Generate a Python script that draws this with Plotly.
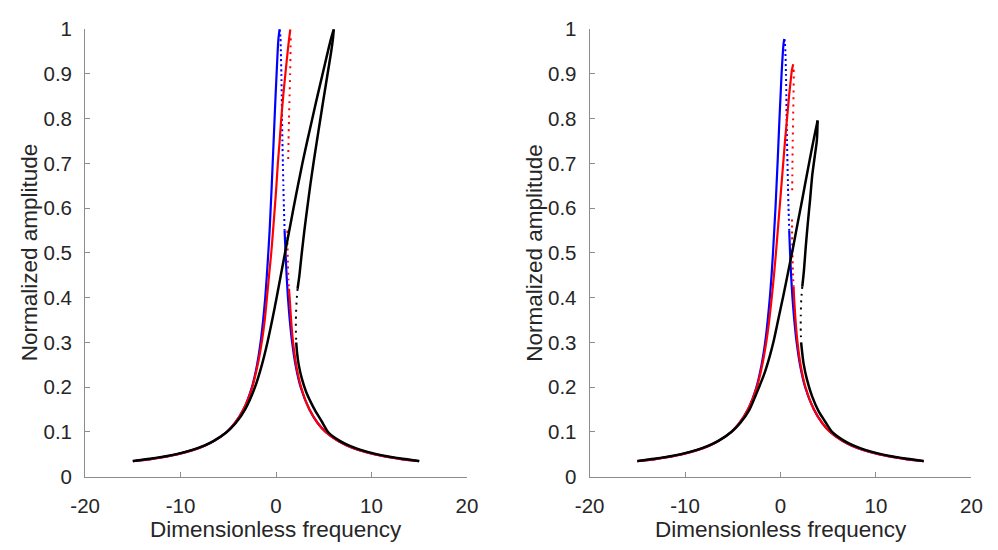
import plotly.graph_objects as go

# ---------------- data ----------------
x_ticks = [-20, -10, 0, 10, 20]
x_tick_text = ["-20", "-10", "0", "10", "20"]
y_ticks = [0, 0.1, 0.2, 0.3, 0.4, 0.5, 0.6, 0.7, 0.8, 0.9, 1.0]
y_tick_text = ["0", "0.1", "0.2", "0.3", "0.4", "0.5", "0.6", "0.7", "0.8", "0.9", "1"]

# shared response tails (x, y)
tail_left_x = [-15.0, -12.99, -10.38, -8.65, -7.41, -6.48, -5.17, -4.30, -3.42]
tail_left_y = [0.0346, 0.040, 0.050, 0.060, 0.070, 0.080, 0.100, 0.120, 0.150]
tail_right_x = [3.50, 4.36, 5.20, 6.48, 7.41, 8.65, 10.38, 12.99, 15.0]
tail_right_y = [0.150, 0.120, 0.100, 0.080, 0.070, 0.060, 0.050, 0.040, 0.0346]

# ---- Left panel ----
L_blue_a_x = [-2.53, -1.99, -1.62, -1.35, -1.13, -0.96, -0.81, -0.67, -0.56, -0.45, -0.35, -0.25, -0.15, -0.05, 0.06, 0.17, 0.26, 0.38]
L_blue_a_y = [0.20, 0.25, 0.30, 0.35, 0.40, 0.45, 0.50, 0.55, 0.60, 0.65, 0.70, 0.75, 0.80, 0.85, 0.90, 0.95, 0.98, 1.00]
L_blue_dot_x = [0.38, 0.47, 0.51, 0.56, 0.60, 0.63, 0.67, 0.72, 0.77, 0.83, 0.90]
L_blue_dot_y = [1.00, 0.98, 0.95, 0.90, 0.85, 0.80, 0.75, 0.70, 0.65, 0.60, 0.55]
L_blue_b_x = [0.90, 1.00, 1.11, 1.25, 1.44, 1.69, 2.04, 2.58]
L_blue_b_y = [0.55, 0.50, 0.45, 0.40, 0.35, 0.30, 0.25, 0.20]

L_red_a_x = [-2.49, -1.92, -1.50, -1.18, -0.95, -0.73, -0.50, -0.31, -0.13, 0.04, 0.19, 0.38, 0.55, 0.75, 0.98, 1.22, 1.38, 1.50]
L_red_a_y = [0.20, 0.25, 0.30, 0.35, 0.40, 0.45, 0.50, 0.55, 0.60, 0.65, 0.70, 0.75, 0.80, 0.85, 0.90, 0.95, 0.98, 1.00]
L_red_dot1_x = [1.54, 1.52, 1.48, 1.42, 1.36, 1.31, 1.27]
L_red_dot1_y = [0.98, 0.95, 0.90, 0.85, 0.80, 0.75, 0.70]
L_red_dot2_x = [1.19, 1.20, 1.24, 1.30, 1.36]
L_red_dot2_y = [0.55, 0.52, 0.48, 0.44, 0.42]
L_red_b_x = [1.36, 1.43, 1.58, 1.79, 2.11, 2.63]
L_red_b_y = [0.42, 0.40, 0.35, 0.30, 0.25, 0.20]

L_blk_a_x = [-15.0, -13.22, -10.55, -8.77, -7.48, -6.52, -5.15, -4.22, -3.25, -2.21, -1.48, -0.90, -0.40, 0.06, 0.50, 0.94, 1.39, 1.83, 2.29, 2.76, 3.27, 3.80, 4.33, 4.88, 5.43, 5.78, 6.05]
L_blk_a_y = [0.0353, 0.040, 0.050, 0.060, 0.070, 0.080, 0.100, 0.120, 0.150, 0.200, 0.250, 0.300, 0.350, 0.400, 0.450, 0.500, 0.550, 0.600, 0.650, 0.700, 0.750, 0.800, 0.850, 0.900, 0.950, 0.980, 1.000]
L_blk_b_x = [6.05, 5.97, 5.78, 5.40, 5.02, 4.65, 4.28, 3.92, 3.58, 3.27, 2.97, 2.70, 2.45, 2.26]
L_blk_b_y = [1.00, 0.98, 0.95, 0.90, 0.85, 0.80, 0.75, 0.70, 0.65, 0.60, 0.55, 0.50, 0.45, 0.42]
L_blk_dot_x = [2.26, 2.15, 2.09, 2.08, 2.12]
L_blk_dot_y = [0.42, 0.39, 0.36, 0.33, 0.30]
L_blk_c_x = [2.12, 2.19, 2.38, 2.72, 3.15, 3.68, 4.15, 4.78, 5.45, 6.68, 7.62, 8.87, 10.63, 13.27, 15.0]
L_blk_c_y = [0.300, 0.280, 0.250, 0.218, 0.190, 0.165, 0.146, 0.124, 0.100, 0.080, 0.070, 0.060, 0.050, 0.040, 0.0353]

# ---- Right panel ----
R_blue_a_x = [-2.53, -1.99, -1.61, -1.34, -1.12, -0.94, -0.79, -0.66, -0.53, -0.42, -0.31, -0.21, -0.11, 0.00, 0.11, 0.25, 0.33, 0.40]
R_blue_a_y = [0.20, 0.25, 0.30, 0.35, 0.40, 0.45, 0.50, 0.55, 0.60, 0.65, 0.70, 0.75, 0.80, 0.85, 0.90, 0.95, 0.97, 0.978]
R_blue_dot_x = [0.40, 0.46, 0.51, 0.57, 0.61, 0.64, 0.68, 0.73, 0.78, 0.84, 0.91]
R_blue_dot_y = [0.978, 0.97, 0.95, 0.90, 0.85, 0.80, 0.75, 0.70, 0.65, 0.60, 0.55]
R_blue_b_x = [0.91, 1.00, 1.11, 1.25, 1.44, 1.69, 2.04, 2.58]
R_blue_b_y = [0.55, 0.50, 0.45, 0.40, 0.35, 0.30, 0.25, 0.20]

R_red_a_x = [-2.48, -1.91, -1.50, -1.18, -0.92, -0.69, -0.48, -0.29, -0.10, 0.09, 0.28, 0.47, 0.68, 0.89, 1.14, 1.20, 1.33]
R_red_a_y = [0.20, 0.25, 0.30, 0.35, 0.40, 0.45, 0.50, 0.55, 0.60, 0.65, 0.70, 0.75, 0.80, 0.85, 0.90, 0.91, 0.922]
R_red_dot1_x = [1.37, 1.39, 1.36, 1.32, 1.28, 1.25, 1.22]
R_red_dot1_y = [0.91, 0.90, 0.85, 0.80, 0.75, 0.70, 0.632]
R_red_dot2_x = [1.20, 1.21, 1.25, 1.31, 1.37]
R_red_dot2_y = [0.575, 0.54, 0.50, 0.45, 0.425]
R_red_b_x = [1.37, 1.42, 1.57, 1.78, 2.10, 2.62]
R_red_b_y = [0.425, 0.40, 0.35, 0.30, 0.25, 0.20]

R_blk_a_x = [-15.0, -13.22, -10.55, -8.77, -7.48, -6.52, -5.15, -4.22, -3.25, -2.25, -1.62, -1.12, -0.70, -0.22, 0.30, 0.82, 1.32, 1.80, 2.28, 2.76, 3.12, 3.44, 3.68, 3.83, 3.88]
R_blk_a_y = [0.0353, 0.040, 0.050, 0.060, 0.070, 0.080, 0.100, 0.120, 0.150, 0.200, 0.235, 0.270, 0.305, 0.353, 0.405, 0.460, 0.513, 0.567, 0.620, 0.675, 0.715, 0.750, 0.775, 0.790, 0.796]
R_blk_b_x = [3.88, 3.86, 3.80, 3.58, 3.33, 3.10, 2.86, 2.64, 2.45, 2.28]
R_blk_b_y = [0.796, 0.775, 0.750, 0.715, 0.675, 0.620, 0.567, 0.513, 0.460, 0.425]
R_blk_dot_x = [2.28, 2.17, 2.12, 2.12, 2.16]
R_blk_dot_y = [0.425, 0.395, 0.360, 0.325, 0.300]
R_blk_c_x = [2.16, 2.21, 2.40, 2.76, 3.30, 4.00, 4.65, 5.40, 6.68, 7.62, 8.87, 10.63, 13.27, 15.0]
R_blk_c_y = [0.300, 0.289, 0.255, 0.218, 0.180, 0.146, 0.124, 0.100, 0.080, 0.070, 0.060, 0.050, 0.040, 0.0353]

# ---------------- figure ----------------
BLUE, RED, BLACK = "#0000ff", "#ff0000", "#000000"
fig = go.Figure()


def solid(x, y, color, w, ax):
    fig.add_trace(go.Scatter(x=x, y=y, mode="lines", xaxis=ax[0], yaxis=ax[1],
                             line=dict(color=color, width=w, shape="spline", smoothing=0.6),
                             showlegend=False, hoverinfo="skip"))


def dotted(x, y, color, dash, ax):
    fig.add_trace(go.Scatter(x=x, y=y, mode="lines", xaxis=ax[0], yaxis=ax[1],
                             line=dict(color=color, width=2, dash=dash, shape="spline", smoothing=0.6),
                             showlegend=False, hoverinfo="skip"))


for ax, d in ((("x", "y"), "L"), (("x2", "y2"), "R")):
    g = globals()
    # blue
    solid(tail_left_x + g[d + "_blue_a_x"], tail_left_y + g[d + "_blue_a_y"], BLUE, 2.2, ax)
    dotted(g[d + "_blue_dot_x"], g[d + "_blue_dot_y"], BLUE, "2px,3px", ax)
    solid(g[d + "_blue_b_x"] + tail_right_x, g[d + "_blue_b_y"] + tail_right_y, BLUE, 2.2, ax)
    # red
    solid(tail_left_x + g[d + "_red_a_x"], tail_left_y + g[d + "_red_a_y"], RED, 2.2, ax)
    dotted(g[d + "_red_dot1_x"], g[d + "_red_dot1_y"], RED, "2px,5px", ax)
    dotted(g[d + "_red_dot2_x"], g[d + "_red_dot2_y"], RED, "2px,4px", ax)
    solid(g[d + "_red_b_x"] + tail_right_x, g[d + "_red_b_y"] + tail_right_y, RED, 2.2, ax)
    # black
    solid(g[d + "_blk_a_x"], g[d + "_blk_a_y"], BLACK, 2.5, ax)
    solid(g[d + "_blk_b_x"], g[d + "_blk_b_y"], BLACK, 2.5, ax)
    dotted(g[d + "_blk_dot_x"], g[d + "_blk_dot_y"], BLACK, "2px,5px", ax)
    solid(g[d + "_blk_c_x"], g[d + "_blk_c_y"], BLACK, 2.5, ax)

FONT = "Liberation Sans, Arial, Helvetica, sans-serif"
axis_common = dict(showgrid=False, zeroline=False, showline=True, linecolor="#8c8c8c", linewidth=1,
                   ticks="inside", ticklen=5, tickcolor="#8c8c8c", tickwidth=1,
                   tickfont=dict(family=FONT, size=20.5, color="#262626"), mirror=False, fixedrange=True)

W, H = 998, 550
y_dom = [(H - 485) / H, (H - 18) / H]
fig.update_layout(
    width=W, height=H, margin=dict(l=0, r=0, t=0, b=0),
    paper_bgcolor="white", plot_bgcolor="white",
    xaxis=dict(domain=[72 / W, 464 / W], range=[-20, 20], tickvals=x_ticks, ticktext=x_tick_text,
               anchor="y", ticklabelstandoff=11, **axis_common),
    yaxis=dict(domain=y_dom, range=[0, 1], tickvals=y_ticks, ticktext=y_tick_text, anchor="x",
               ticklabelstandoff=8, **axis_common),
    xaxis2=dict(domain=[590 / W, 982 / W], range=[-20, 20], tickvals=x_ticks, ticktext=x_tick_text,
                anchor="y2", ticklabelstandoff=11, **axis_common),
    yaxis2=dict(domain=y_dom, range=[0, 1], tickvals=y_ticks, ticktext=y_tick_text, anchor="x2",
                ticklabelstandoff=8, **axis_common),
)

title_font = dict(family=FONT, size=22.5, color="#262626")
ann = []
for cx in (268, 786):
    ann.append(dict(text="Dimensionless frequency", x=cx / W, y=(H - 540) / H, xref="paper", yref="paper",
                    showarrow=False, font=title_font, xanchor="center", yanchor="middle"))
# vertical titles: anchored by their right edge so they stay clear of the tick labels
for right_px in (30, 548):
    ann.append(dict(text="Normalized amplitude", x=right_px / W, y=(H - 251) / H, xref="paper", yref="paper",
                    showarrow=False, font=title_font, textangle=-90, xanchor="right", yanchor="middle"))
fig.update_layout(annotations=ann)

fig.write_html("out.html")
